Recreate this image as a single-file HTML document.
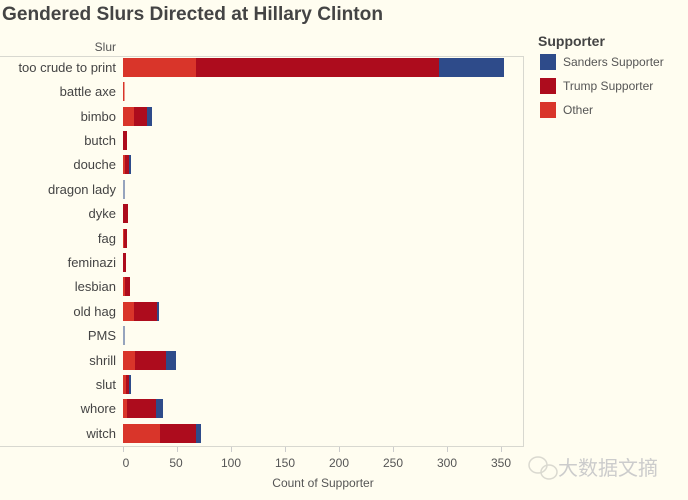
<!DOCTYPE html>
<html><head><meta charset="utf-8"><style>
body{margin:0;background:#fffdf0;}
svg{display:block;font-family:"Liberation Sans",sans-serif;}
</style></head><body>
<svg width="688" height="500" viewBox="0 0 688 500" xmlns="http://www.w3.org/2000/svg">
<rect width="688" height="500" fill="#fffdf0"/>
<text x="2" y="20" font-size="19" font-weight="bold" textLength="381" lengthAdjust="spacingAndGlyphs" fill="#444">Gendered Slurs Directed at Hillary Clinton</text>
<text x="116" y="51" font-size="12" fill="#555" text-anchor="end">Slur</text>
<line x1="0" y1="56.5" x2="523" y2="56.5" stroke="#d8d8d0"/>
<line x1="523.5" y1="56" x2="523.5" y2="446" stroke="#d8d8d0"/>
<line x1="0" y1="446.5" x2="524" y2="446.5" stroke="#d8d8d0"/>
<g font-size="13" fill="#444" text-anchor="end">
<text x="116" y="72">too crude to print</text>
<text x="116" y="96">battle axe</text>
<text x="116" y="121">bimbo</text>
<text x="116" y="145">butch</text>
<text x="116" y="169">douche</text>
<text x="116" y="194">dragon lady</text>
<text x="116" y="218">dyke</text>
<text x="116" y="243">fag</text>
<text x="116" y="267">feminazi</text>
<text x="116" y="291">lesbian</text>
<text x="116" y="316">old hag</text>
<text x="116" y="340">PMS</text>
<text x="116" y="365">shrill</text>
<text x="116" y="389">slut</text>
<text x="116" y="413">whore</text>
<text x="116" y="438">witch</text>
</g>
<g>
<rect x="123" y="58" width="73" height="19" fill="#d9352a"/><rect x="196" y="58" width="243" height="19" fill="#ad0c1d"/><rect x="439" y="58" width="65" height="19" fill="#2e4b8a"/>
<rect x="123" y="82" width="1.5" height="19" fill="#d9352a"/>
<rect x="123" y="107" width="11" height="19" fill="#d9352a"/><rect x="134" y="107" width="13" height="19" fill="#ad0c1d"/><rect x="147" y="107" width="5" height="19" fill="#2e4b8a"/>
<rect x="123" y="131" width="4" height="19" fill="#ad0c1d"/>
<rect x="123" y="155" width="2" height="19" fill="#d9352a"/><rect x="125" y="155" width="4" height="19" fill="#ad0c1d"/><rect x="129" y="155" width="2" height="19" fill="#2e4b8a"/>
<rect x="123.5" y="180" width="1" height="19" fill="#2e4b8a"/>
<rect x="123" y="204" width="5" height="19" fill="#ad0c1d"/>
<rect x="123" y="229" width="1" height="19" fill="#d9352a"/><rect x="124" y="229" width="3" height="19" fill="#ad0c1d"/>
<rect x="123" y="253" width="3" height="19" fill="#ad0c1d"/>
<rect x="123" y="277" width="2" height="19" fill="#d9352a"/><rect x="125" y="277" width="5" height="19" fill="#ad0c1d"/>
<rect x="123" y="302" width="11" height="19" fill="#d9352a"/><rect x="134" y="302" width="23" height="19" fill="#ad0c1d"/><rect x="157" y="302" width="2" height="19" fill="#2e4b8a"/>
<rect x="123.5" y="326" width="1" height="19" fill="#2e4b8a"/>
<rect x="123" y="351" width="12" height="19" fill="#d9352a"/><rect x="135" y="351" width="31" height="19" fill="#ad0c1d"/><rect x="166" y="351" width="10" height="19" fill="#2e4b8a"/>
<rect x="123" y="375" width="3" height="19" fill="#d9352a"/><rect x="126" y="375" width="3" height="19" fill="#ad0c1d"/><rect x="129" y="375" width="2" height="19" fill="#2e4b8a"/>
<rect x="123" y="399" width="4" height="19" fill="#d9352a"/><rect x="127" y="399" width="29" height="19" fill="#ad0c1d"/><rect x="156" y="399" width="7" height="19" fill="#2e4b8a"/>
<rect x="123" y="424" width="37" height="19" fill="#d9352a"/><rect x="160" y="424" width="36" height="19" fill="#ad0c1d"/><rect x="196" y="424" width="5" height="19" fill="#2e4b8a"/>
</g>
<g stroke="#ccc">
<line x1="123.5" y1="447" x2="123.5" y2="452"/><line x1="177.5" y1="447" x2="177.5" y2="452"/><line x1="231.5" y1="447" x2="231.5" y2="452"/><line x1="285.5" y1="447" x2="285.5" y2="452"/><line x1="339.5" y1="447" x2="339.5" y2="452"/><line x1="393.5" y1="447" x2="393.5" y2="452"/><line x1="447.5" y1="447" x2="447.5" y2="452"/><line x1="501.5" y1="447" x2="501.5" y2="452"/>
</g>
<g font-size="12" fill="#555" text-anchor="middle">
<text x="126" y="467">0</text><text x="176" y="467">50</text><text x="231" y="467">100</text><text x="285" y="467">150</text><text x="339" y="467">200</text><text x="393" y="467">250</text><text x="447" y="467">300</text><text x="501" y="467">350</text>
</g>
<text x="323" y="487" font-size="12" fill="#555" text-anchor="middle">Count of Supporter</text>
<text x="538" y="46" font-size="14" font-weight="bold" fill="#444">Supporter</text>
<rect x="540" y="54" width="16" height="16" fill="#2e4b8a"/><text x="563" y="66" font-size="12" fill="#555">Sanders Supporter</text>
<rect x="540" y="78" width="16" height="16" fill="#ad0c1d"/><text x="563" y="90" font-size="12" fill="#555">Trump Supporter</text>
<rect x="540" y="102" width="16" height="16" fill="#d9352a"/><text x="563" y="114" font-size="12" fill="#555">Other</text>
<g opacity="0.3" fill="none" stroke="#888" stroke-width="1.5"><ellipse cx="538" cy="465" rx="9" ry="8"/><ellipse cx="549" cy="472" rx="8" ry="7"/></g>
<text x="558" y="475" font-size="20" fill="#ccc" font-family="Noto Sans CJK SC, sans-serif">大数据文摘</text>
</svg>
</body></html>
